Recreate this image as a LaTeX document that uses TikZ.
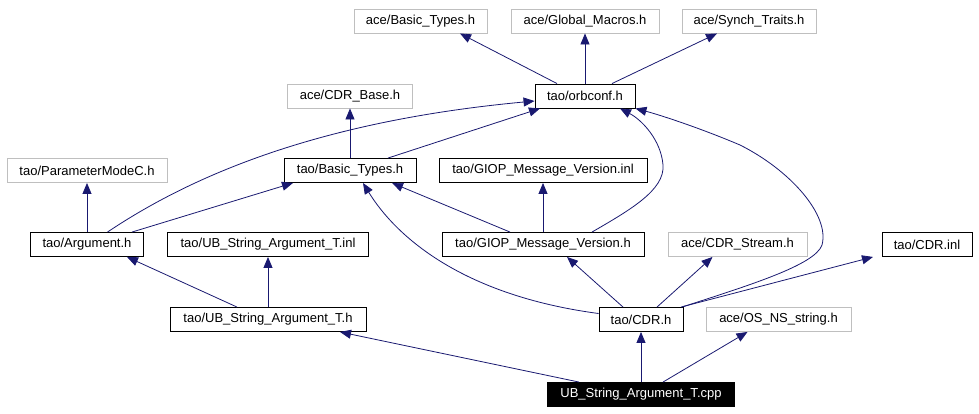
\documentclass[tikz,border=0pt]{standalone}
\usepackage{fontspec}
\setmainfont{Liberation Sans}
\usetikzlibrary{arrows.meta,positioning}
\definecolor{edgeblue}{RGB}{25,25,112}
\definecolor{extgray}{RGB}{191,191,191}

\begin{document}
\begin{tikzpicture}[x=1pt,y=-1pt,
    hdr/.style={draw=black,line width=0.9pt,minimum height=24pt,inner sep=0pt,font=\fontsize{13}{15}\selectfont},
    ext/.style={hdr,draw=extgray},
    root/.style={hdr,fill=black,text=white},
    inc/.style={draw=edgeblue,line width=0.8pt,-{Triangle[length=11pt,width=9pt]}}]
    \useasboundingbox (0,0) rectangle (979,413);

    % top row
    \node [ext, minimum width=133pt] (acebt) at (420.5,21) {ace/Basic\_Types.h};
    \node [ext, minimum width=148pt] (acegm) at (585,21) {ace/Global\_Macros.h};
    \node [ext, minimum width=134pt] (acest) at (749,21) {ace/Synch\_Traits.h};
    \node [hdr, minimum width=100pt] (orbconf) at (585,96) {tao/orbconf.h};
    \node [ext, minimum width=125pt] (acecdrbase) at (350,96) {ace/CDR\_Base.h};
    \node [ext, minimum width=160pt] (paramc) at (87,170.5) {tao/ParameterModeC.h};
    \node [hdr, minimum width=132pt] (taobt) at (350,170.5) {tao/Basic\_Types.h};
    \node [hdr, minimum width=208pt] (giopinl) at (543,170.5) {tao/GIOP\_Message\_Version.inl};
    % middle rows
    \node [hdr, minimum width=113pt] (argument) at (87,244.5) {tao/Argument.h};
    \node [hdr, minimum width=201pt] (ubinl) at (268,244.5) {tao/UB\_String\_Argument\_T.inl};
    \node [hdr, minimum width=202pt] (gioph) at (543,244.5) {tao/GIOP\_Message\_Version.h};
    \node [ext, minimum width=139pt] (cdrstream) at (737.5,244.5) {ace/CDR\_Stream.h};
    \node [hdr, minimum width=90pt] (cdrinl) at (927,244.5) {tao/CDR.inl};
    \node [hdr, minimum width=196pt] (ubh) at (268,319.5) {tao/UB\_String\_Argument\_T.h};
    \node [hdr, minimum width=84pt] (cdrh) at (641,319.5) {tao/CDR.h};
    \node [ext, minimum width=145pt] (osns) at (778.5,319.5) {ace/OS\_NS\_string.h};
    \node [root, minimum width=187pt] (cpp) at (641,394.5) {UB\_String\_Argument\_T.cpp};

    \foreach \s/\sx/\t/\tx in {orbconf/-28/acebt/39.5, orbconf/0/acegm/0, orbconf/27/acest/-32,
        taobt/0/acecdrbase/0, taobt/38/orbconf/-45, argument/45/taobt/-57, argument/0/paramc/0,
        gioph/0/giopinl/0, gioph/-33/taobt/42, cdrh/-18/gioph/24, cdrh/16/cdrstream/-25,
        cdrh/40/cdrinl/-54, ubh/-31/argument/40, ubh/0/ubinl/0, cpp/-62/ubh/72,
        cpp/0/cdrh/0, cpp/22/osns/-31}{
      \draw [inc] ([xshift=\sx pt]\s.north) -- ([xshift=\tx pt]\t.south);
       }
    \draw [inc] ([xshift=20.5pt]argument.north) .. controls (200,170) and (330,120) .. ([yshift=-5pt]orbconf.west);
    \draw [inc] ([xshift=49pt]gioph.north) .. controls (630,210) and (665,190) .. (663,165)
        .. controls (661,140) and (642,120) .. ([xshift=35pt]orbconf.south);
    \draw [inc] ([yshift=6pt]cdrh.west) .. controls (460,295) and (395,235) .. ([xshift=13pt]taobt.south);
    \draw [inc] ([xshift=41pt]cdrh.north) .. controls (750,285) and (815,265) .. (822,245)
        .. controls (830,215) and (790,170) .. (740,145) .. controls (700,128) and (660,115) .. (orbconf.south east);

  \end{tikzpicture}
\end{document}
